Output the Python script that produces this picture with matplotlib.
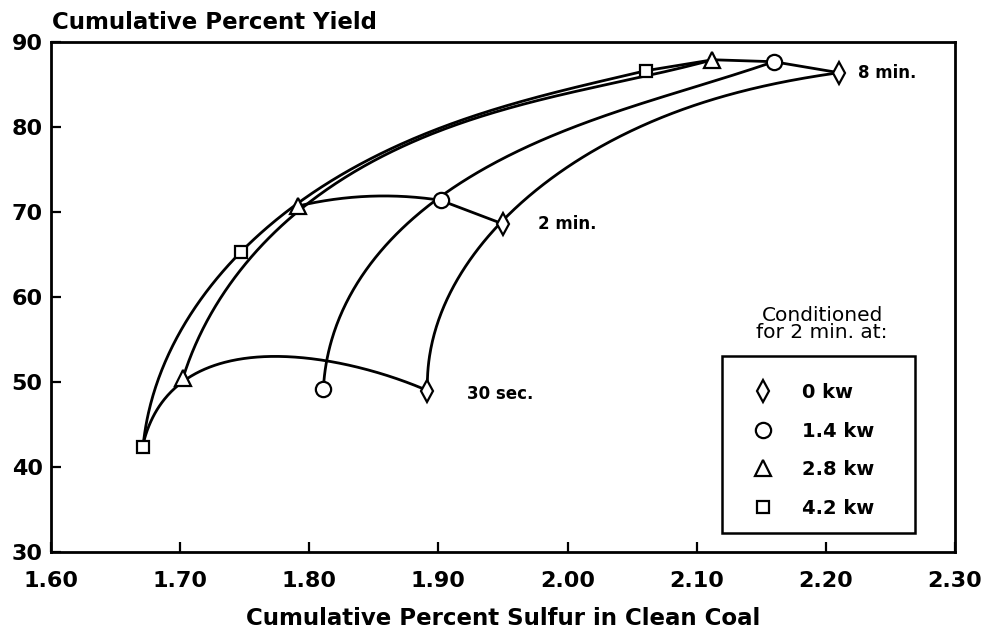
import numpy as np
import matplotlib

matplotlib.use("Agg")
import matplotlib.pyplot as plt
from matplotlib.patches import Rectangle

plt.rcParams["font.family"] = ["DejaVu Sans"]

# measured points: 30 sec, 2 min, 8 min
sulfur_0kw = [1.891, 1.950, 2.210]
yield_0kw = [49.0, 68.6, 86.4]
sulfur_14kw = [1.811, 1.902, 2.160]
yield_14kw = [49.2, 71.4, 87.7]
sulfur_28kw = [1.702, 1.791, 2.112]
yield_28kw = [50.5, 70.7, 87.9]
sulfur_42kw = [1.671, 1.747, 2.061]
yield_42kw = [42.4, 65.3, 86.6]

# traced fitted curves (constant power)
curve_0kw_x = [1.8915, 1.8922, 1.8961, 1.9039, 1.9147, 1.9271, 1.9426, 1.9504,
               1.9713, 2.0101, 2.0620, 2.1132, 2.1651, 2.2101]
curve_0kw_y = [48.99, 51.22, 55.09, 58.96, 62.47, 65.29, 67.63, 68.57,
               71.86, 76.54, 80.53, 83.18, 85.22, 86.39]
curve_14kw_x = [1.8109, 1.8140, 1.8217, 1.8318, 1.8450, 1.8605, 1.8783, 1.9016,
                1.9481, 1.9845, 2.0357, 2.0876, 2.1395, 2.1597]
curve_14kw_y = [49.23, 52.74, 55.91, 59.78, 63.65, 66.81, 69.51, 71.38,
                76.19, 78.53, 81.47, 84.40, 86.98, 87.68]
curve_28kw_x = [1.7023, 1.7140, 1.7326, 1.7411, 1.7643, 1.7907, 1.8496, 1.8961,
                1.9481, 2.0101, 2.0605, 2.1124]
curve_28kw_y = [50.52, 55.09, 59.78, 62.12, 65.99, 70.68, 75.84, 79.12,
                81.93, 84.28, 86.15, 87.91]
curve_42kw_x = [1.6713, 1.6783, 1.6868, 1.6977, 1.7155, 1.7473, 1.7674, 1.7907,
                1.8496, 1.8961, 1.9481, 2.0101, 2.0605]
curve_42kw_y = [42.43, 48.05, 51.81, 55.09, 59.78, 65.29, 68.34, 70.91,
                76.31, 79.59, 82.40, 84.75, 86.62]

# traced fitted curves (constant time)
curve_30s_x = [1.6713, 1.6791, 1.6868, 1.7023, 1.7310, 1.7829, 1.8140, 1.8450,
               1.8705, 1.8915]
curve_30s_y = [42.66, 46.06, 48.05, 50.52, 51.92, 52.98, 52.51, 51.34,
               50.16, 48.99]
curve_2min_x = [1.7907, 1.8496, 1.8938, 1.9016]
curve_2min_y = [70.68, 71.85, 71.62, 71.38]
link_2min_x = [1.9016, 1.9504]
link_2min_y = [71.38, 68.57]
link_8min_x = [2.0605, 2.1124, 2.1597, 2.2101]
link_8min_y = [86.62, 87.91, 87.68, 86.39]

power_labels = ["0 kw", "1.4 kw", "2.8 kw", "4.2 kw"]
x_ticks = [1.60, 1.70, 1.80, 1.90, 2.00, 2.10, 2.20, 2.30]
y_ticks = [30, 40, 50, 60, 70, 80, 90]


def smooth(xs, ys, deg, n=300):
    # least-squares parametric polynomial through the traced points,
    # ends pinned with heavy weights
    xs = np.asarray(xs, float)
    ys = np.asarray(ys, float)
    u = (xs - 1.6) / 0.7 * 904
    v = (ys - 30) / 60 * 510
    t = np.concatenate([[0], np.cumsum(np.hypot(np.diff(u), np.diff(v)))])
    t /= t[-1]
    w = np.ones_like(t)
    w[0] = w[-1] = 30
    tt = np.linspace(0, 1, n)
    return (np.polyval(np.polyfit(t, xs, deg, w=w), tt),
            np.polyval(np.polyfit(t, ys, deg, w=w), tt))


fig = plt.figure(figsize=(9.87, 6.35), dpi=100)
ax = fig.add_axes([51 / 987, 83 / 635, 904 / 987, 510 / 635])

lw = 2.0
for cx, cy, deg in [(curve_0kw_x, curve_0kw_y, 4), (curve_14kw_x, curve_14kw_y, 4),
                    (curve_28kw_x, curve_28kw_y, 4), (curve_42kw_x, curve_42kw_y, 4),
                    (curve_30s_x, curve_30s_y, 3), (curve_2min_x, curve_2min_y, 2)]:
    sx, sy = smooth(cx, cy, deg)
    ax.plot(sx, sy, color="black", lw=lw, solid_capstyle="round", zorder=2)
ax.plot(link_2min_x, link_2min_y, color="black", lw=lw, zorder=2)
ax.plot(link_8min_x, link_8min_y, color="black", lw=lw, zorder=2)

mk = dict(color="black", markerfacecolor="white", markeredgewidth=1.6,
          linestyle="none", zorder=3)
h0, = ax.plot(sulfur_0kw, yield_0kw, marker="d", markersize=11, label=power_labels[0], **mk)
h1, = ax.plot(sulfur_14kw, yield_14kw, marker="o", markersize=11, label=power_labels[1], **mk)
h2, = ax.plot(sulfur_28kw, yield_28kw, marker="^", markersize=11, label=power_labels[2], **mk)
h3, = ax.plot(sulfur_42kw, yield_42kw, marker="s", markersize=9, label=power_labels[3], **mk)

ax.set_xlim(1.60, 2.30)
ax.set_ylim(30, 90)
ax.set_xticks(x_ticks)
ax.set_xticklabels([f"{v:.2f}" for v in x_ticks])
ax.set_yticks(y_ticks)
ax.tick_params(direction="in", length=7, width=1.6, labelsize=16)
ax.tick_params(axis="x", pad=14)
ax.tick_params(axis="y", pad=6)
for lab in ax.get_xticklabels() + ax.get_yticklabels():
    lab.set_fontweight("bold")
for sp in ax.spines.values():
    sp.set_linewidth(2.0)

ax.set_xlabel("Cumulative Percent Sulfur in Clean Coal", fontsize=16.5,
              fontweight="bold", labelpad=11)
fig.text(52 / 987, 1 - 29 / 635, "Cumulative Percent Yield", fontsize=16.5,
         fontweight="bold", ha="left", va="baseline")

ax.annotate("8 min.", xy=(2.225, 86.4), fontsize=12, fontweight="bold",
            ha="left", va="center")
ax.annotate("2 min.", xy=(1.977, 68.6), fontsize=12, fontweight="bold",
            ha="left", va="center")
ax.annotate("30 sec.", xy=(1.922, 48.6), fontsize=12, fontweight="bold",
            ha="left", va="center")

# legend
ax.text(0.853, 0.447, "Conditioned\nfor 2 min. at:", transform=ax.transAxes,
        fontsize=14.5, ha="center", va="center", linespacing=0.9)
ax.add_patch(Rectangle((0.742, 0.037), 0.214, 0.347, transform=ax.transAxes,
                       fill=False, lw=1.8, edgecolor="black", zorder=4))
leg = ax.legend(handles=[h0, h1, h2, h3], loc="upper left",
                bbox_to_anchor=(0.777, 0.331), frameon=False, fontsize=14,
                handlelength=1.0, handletextpad=1.5, labelspacing=1.0,
                borderpad=0.0, borderaxespad=0.0)
for t in leg.get_texts():
    t.set_fontweight("bold")

fig.savefig("out.png", dpi=100)
